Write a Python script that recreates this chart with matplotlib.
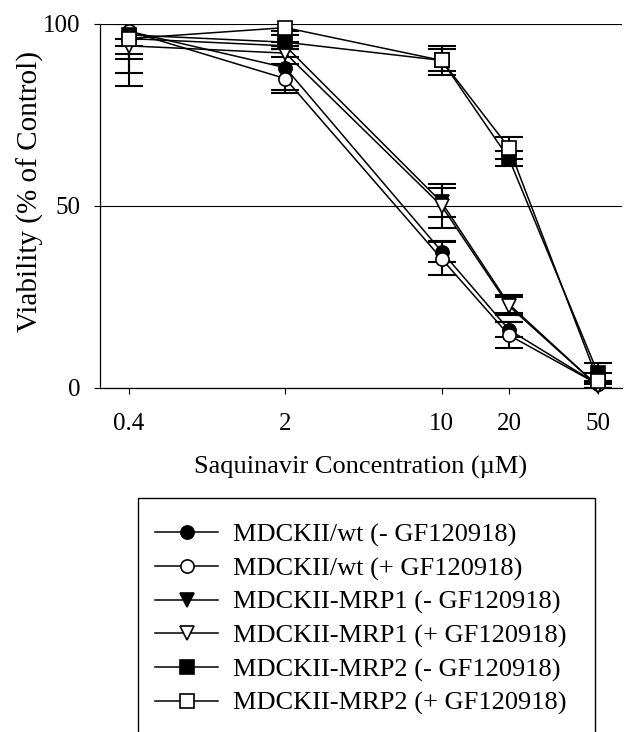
import numpy as np
import matplotlib.pyplot as plt
from matplotlib.patches import Rectangle
from matplotlib.ticker import FixedLocator, NullLocator, FixedFormatter

plt.rcParams["font.family"] = ["Liberation Serif", "DejaVu Serif"]

# ---- data ----
conc = [0.4, 2, 10, 20, 50]
tick_labels = ["0.4", "2", "10", "20", "50"]

labels = [
    "MDCKII/wt (- GF120918)",
    "MDCKII/wt (+ GF120918)",
    "MDCKII-MRP1 (- GF120918)",
    "MDCKII-MRP1 (+ GF120918)",
    "MDCKII-MRP2 (- GF120918)",
    "MDCKII-MRP2 (+ GF120918)",
]

wt_minus = [98, 88, 37.5, 16, 1]
wt_minus_err = [2, 6, 3, 2, 1]
wt_plus = [98, 85, 35.5, 14.5, 1]
wt_plus_err = [11.5, 4, 4.5, 3.5, 1]
mrp1_minus = [96, 94, 51, 23, 0.5]
mrp1_minus_err = [5.5, 1, 4, 2.5, 1]
mrp1_plus = [94, 92, 50, 22.5, 0.5]
mrp1_plus_err = [11, 1, 6, 2.5, 1]
mrp2_minus = [97, 95, 90, 63, 4]
mrp2_minus_err = [3, 2, 3, 2, 3]
mrp2_plus = [96, 99, 90, 66, 2]
mrp2_plus_err = [4.2, 1, 4, 3, 2]

series = [wt_minus, wt_plus, mrp1_minus, mrp1_plus, mrp2_minus, mrp2_plus]
errors = [wt_minus_err, wt_plus_err, mrp1_minus_err, mrp1_plus_err,
          mrp2_minus_err, mrp2_plus_err]
markers = ["o", "o", "v", "v", "s", "s"]
fills = ["black", "white", "black", "white", "black", "white"]

W, H = 626, 732
fig = plt.figure(figsize=(W / 100, H / 100), dpi=100)
ax = fig.add_axes([100 / W, 1 - 388 / H, 522 / W, 364 / H])

handles = []
for y, e, m, fc in zip(series, errors, markers, fills):
    ax.errorbar(conc, y, yerr=e, fmt="none", ecolor="black",
                elinewidth=1.5, capsize=10, capthick=1.5, zorder=2)
    ms = 9.5 if m != "v" else 10.5
    (h,) = ax.plot(conc, y, color="black", lw=1.1, marker=m, ms=ms,
                   mfc=fc, mec="black", mew=1.2, clip_on=False, zorder=3)
    handles.append(h)

ax.set_xscale("log")
ax.set_xlim(0.297, 64)
ax.set_ylim(0, 100)
ax.xaxis.set_major_locator(FixedLocator(conc))
ax.xaxis.set_major_formatter(FixedFormatter(tick_labels))
ax.xaxis.set_minor_locator(NullLocator())
ax.set_yticks([0, 50, 100])
ax.tick_params(axis="both", direction="out", length=4, width=0.8,
               labelsize=18)
ax.tick_params(axis="y", pad=10)
ax.tick_params(axis="x", pad=14)
ax.grid(axis="y", color="black", lw=0.8)
ax.set_axisbelow(True)
for s in ("top", "right"):
    ax.spines[s].set_visible(False)
for s in ("left", "bottom"):
    ax.spines[s].set_linewidth(0.9)

ax.set_xlabel("Saquinavir Concentration (\u00b5M)", fontsize=19, labelpad=15)
ax.set_ylabel("Viability (% of Control)", fontsize=21)
ax.yaxis.set_label_coords(-0.108, 0.54)

# legend box runs off the bottom of the figure, as in the source
fig.patches.append(Rectangle((138 / W, -0.02), (595 - 138) / W,
                             (1 - 498 / H) + 0.02, transform=fig.transFigure,
                             fill=False, ec="black", lw=1.0))
fig.legend(handles, labels, loc="upper left",
           bbox_to_anchor=(155 / W, 1 - 523 / H), frameon=False,
           fontsize=19, handlelength=2.4, handletextpad=0.55,
           labelspacing=0.37, borderaxespad=0, borderpad=0)

fig.savefig("out.png", dpi=100)
